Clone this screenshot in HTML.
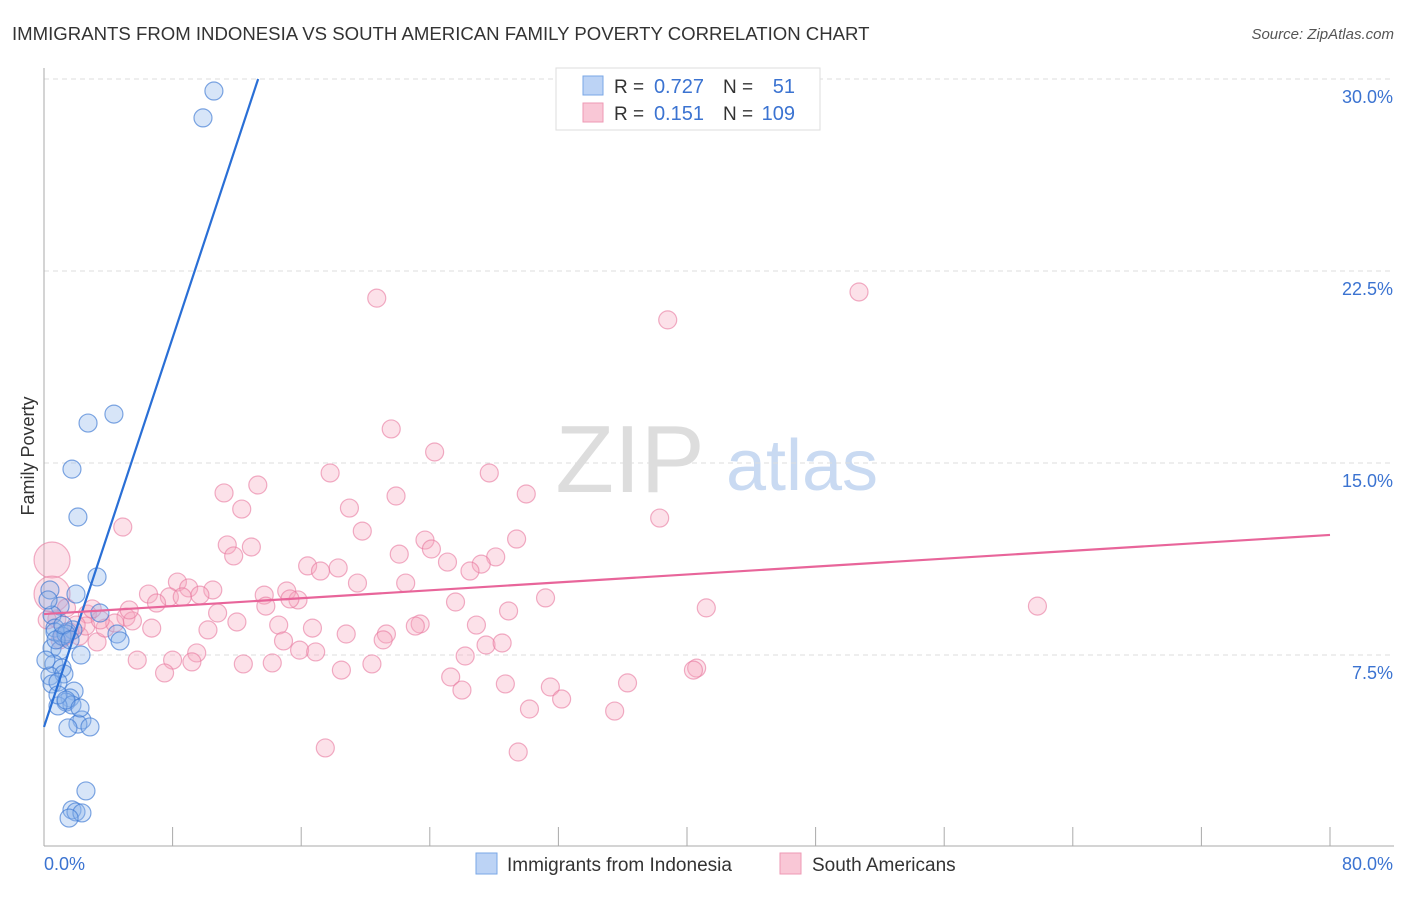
<!DOCTYPE html>
<html><head><meta charset="utf-8"><style>
body{margin:0;background:#fff;font-family:"Liberation Sans",sans-serif}
svg text{font-family:"Liberation Sans",sans-serif}
</style></head><body>
<svg id="c" width="1406" height="892" xmlns="http://www.w3.org/2000/svg">
<text x="12" y="40" font-size="18.6" fill="#333">IMMIGRANTS FROM INDONESIA VS SOUTH AMERICAN FAMILY POVERTY CORRELATION CHART</text>
<text x="1394" y="39" font-size="15" fill="#555" text-anchor="end" font-style="italic">Source: ZipAtlas.com</text>
<g><text x="630" y="492" font-size="96" fill="#ddd" font-family="Liberation Serif" text-anchor="middle">ZIP</text><text x="802" y="490" font-size="72" fill="#c9daf2" text-anchor="middle">atlas</text></g>
<g id="grid"></g><g id="axes"></g><g id="pts"></g><g id="lines"></g>
<text transform="translate(34,456) rotate(-90)" font-size="18" fill="#333" text-anchor="middle">Family Poverty</text>
<g>
<rect x="556" y="68" width="264" height="62" fill="#fff" stroke="#ddd"/>
<rect x="583" y="76" width="20" height="19" fill="#bcd3f5" stroke="#7aa7e6"/>
<rect x="583" y="103" width="20" height="19" fill="#f9c7d6" stroke="#ee9ab4"/>
<text x="614" y="93" font-size="19" fill="#333">R =</text>
<text x="704" y="93" font-size="20" fill="#3b73d1" text-anchor="end">0.727</text>
<text x="723" y="93" font-size="19" fill="#333">N =</text>
<text x="795" y="93" font-size="20" fill="#3b73d1" text-anchor="end">51</text>
<text x="614" y="120" font-size="19" fill="#333">R =</text>
<text x="704" y="120" font-size="20" fill="#3b73d1" text-anchor="end">0.151</text>
<text x="723" y="120" font-size="19" fill="#333">N =</text>
<text x="795" y="120" font-size="20" fill="#3b73d1" text-anchor="end">109</text>
</g>
<g>
<rect x="476" y="853" width="21" height="21" fill="#bcd3f5" stroke="#7aa7e6"/>
<text x="507" y="871" font-size="19" fill="#333">Immigrants from Indonesia</text>
<rect x="780" y="853" width="21" height="21" fill="#f9c7d6" stroke="#ee9ab4"/>
<text x="812" y="871" font-size="19" fill="#333">South Americans</text>
</g>
</svg>
<script>
const yTicks=[7.5,15,22.5,30];
const yTickLabels=["7.5%","15.0%","22.5%","30.0%"];
const xTickCount=10;
const xLabels=["0.0%","80.0%"];
const blueX=[10.57,9.89,4.35,2.74,1.74,2.11,3.30,1.99,3.48,0.37,1.00,0.50,0.68,1.43,1.80,4.54,4.73,0.50,1.00,2.30,0.62,1.12,0.37,1.24,0.50,0.87,1.87,1.62,1.37,1.74,0.87,2.36,2.11,2.86,1.49,2.61,1.74,1.99,2.36,1.56,0.25,0.68,1.12,1.37,0.12,0.75,1.18,1.62,0.87,1.37,2.24];
const blueY=[29.53,28.48,16.91,16.56,14.76,12.89,10.55,9.88,9.14,10.04,9.41,9.06,8.55,8.40,8.48,8.32,8.05,7.77,7.69,7.50,7.15,6.99,6.68,6.76,6.37,6.44,6.09,5.82,5.66,5.55,5.51,4.96,4.80,4.69,4.65,2.19,1.45,1.37,1.33,1.13,9.65,8.40,8.24,8.32,7.30,8.09,8.67,8.09,5.94,5.74,5.43];
const pinkX=[20.7,50.7,38.8,21.6,24.3,17.8,27.7,13.3,11.2,21.9,30.0,12.3,19.0,38.3,4.9,19.8,23.7,29.4,11.4,12.9,24.1,11.8,22.1,28.1,25.1,16.4,18.3,27.2,17.2,26.5,19.5,8.3,22.5,10.5,9.0,15.1,6.5,13.7,7.8,9.7,8.6,15.8,7.0,31.2,15.3,13.8,25.6,61.8,41.2,28.9,10.8,2.7,5.1,0.8,5.5,12.0,26.9,14.6,23.4,23.1,16.7,6.7,10.2,18.8,21.3,21.1,14.9,2.2,3.3,27.5,28.5,15.9,16.9,9.5,26.2,5.8,8.0,12.4,14.2,9.2,20.4,18.5,7.5,40.6,40.4,25.3,36.3,31.5,26.0,28.7,32.2,30.2,35.5,17.5,29.5,0.5,0.5,0.2,1.0,1.6,2.6,3.8,4.4,5.3,3.5,2.0,1.4,3.0,1.2];
const pinkY=[21.44,21.68,20.59,16.33,15.43,14.61,14.61,14.14,13.83,13.71,13.79,13.20,13.24,12.85,12.50,12.34,11.99,12.03,11.80,11.72,11.64,11.37,11.44,11.33,11.13,10.98,10.90,11.05,10.78,10.78,10.31,10.35,10.31,10.04,10.12,10.00,9.88,9.84,9.77,9.84,9.77,9.65,9.53,9.73,9.69,9.41,9.57,9.41,9.34,9.22,9.14,9.10,8.98,8.91,8.83,8.79,8.67,8.67,8.71,8.63,8.55,8.55,8.48,8.32,8.32,8.09,8.05,8.24,8.01,7.89,7.97,7.69,7.62,7.58,7.46,7.30,7.30,7.15,7.19,7.23,7.15,6.91,6.80,6.99,6.91,6.64,6.41,6.25,6.13,6.37,5.78,5.39,5.31,3.87,3.71,11.21,9.88,8.87,8.09,8.40,8.63,8.55,8.75,9.26,8.87,8.67,9.34,9.30,8.20];
const pinkBig=[95,96];
const blueTrend=[4.69,1.90];
const pinkTrend=[9.10,12.19];
const X=v=>44+v/80*1286, Y=v=>847-v/7.5*192;
const NS="http://www.w3.org/2000/svg";
function mk(t,a,p){const e=document.createElementNS(NS,t);for(const k in a)e.setAttribute(k,a[k]);p.appendChild(e);return e;}
const grid=document.getElementById('grid'),axes=document.getElementById('axes'),pts=document.getElementById('pts'),lines=document.getElementById('lines');
yTicks.forEach((t,i)=>{
 const l=mk('line',{x1:44,x2:1394,y1:Y(t),y2:Y(t),stroke:'#ddd','stroke-dasharray':'5,4'},grid);
 
 
 const tx=mk('text',{x:1393,y:Y(t)+24,'font-size':18,fill:'#3b73d1','text-anchor':'end'},axes);tx.textContent=yTickLabels[i];
 
 
});
const ax=mk('line',{x1:44,x2:44,y1:68,y2:846,stroke:'#aaa'},axes);


const bx=mk('line',{x1:44,x2:1394,y1:846,y2:846,stroke:'#aaa'},axes);


for(let i=1;i<=xTickCount;i++){const v=i*80/xTickCount;const t=mk('line',{x1:X(v),x2:X(v),y1:827,y2:846,stroke:'#aaa'},axes);
 
 }
const xl0=mk('text',{x:44,y:870,'font-size':18,fill:'#3b73d1'},axes);xl0.textContent=xLabels[0];


const xl1=mk('text',{x:1393,y:870,'font-size':18,fill:'#3b73d1','text-anchor':'end'},axes);xl1.textContent=xLabels[1];


pinkX.forEach((x,i)=>{const c=mk('circle',{cx:X(x),cy:Y(pinkY[i]),r:pinkBig.includes(i)?18:9,fill:'rgba(246,168,193,0.35)',stroke:'rgba(232,120,158,0.6)','stroke-width':1.2},pts);
 
 });
blueX.forEach((x,i)=>{const c=mk('circle',{cx:X(x),cy:Y(blueY[i]),r:9,fill:'rgba(140,180,235,0.35)',stroke:'rgba(60,120,210,0.65)','stroke-width':1.2},pts);
 
 });
const bEnd=(30-blueTrend[0])/blueTrend[1];
const bl=mk('line',{x1:X(0),y1:Y(blueTrend[0]),x2:X(bEnd),y2:Y(30),stroke:'#2a6fd6','stroke-width':2.2},lines);


const pl=mk('line',{x1:X(0),y1:Y(pinkTrend[0]),x2:X(80),y2:Y(pinkTrend[1]),stroke:'#e8659a','stroke-width':2.2},lines);


</script>
</body></html>
